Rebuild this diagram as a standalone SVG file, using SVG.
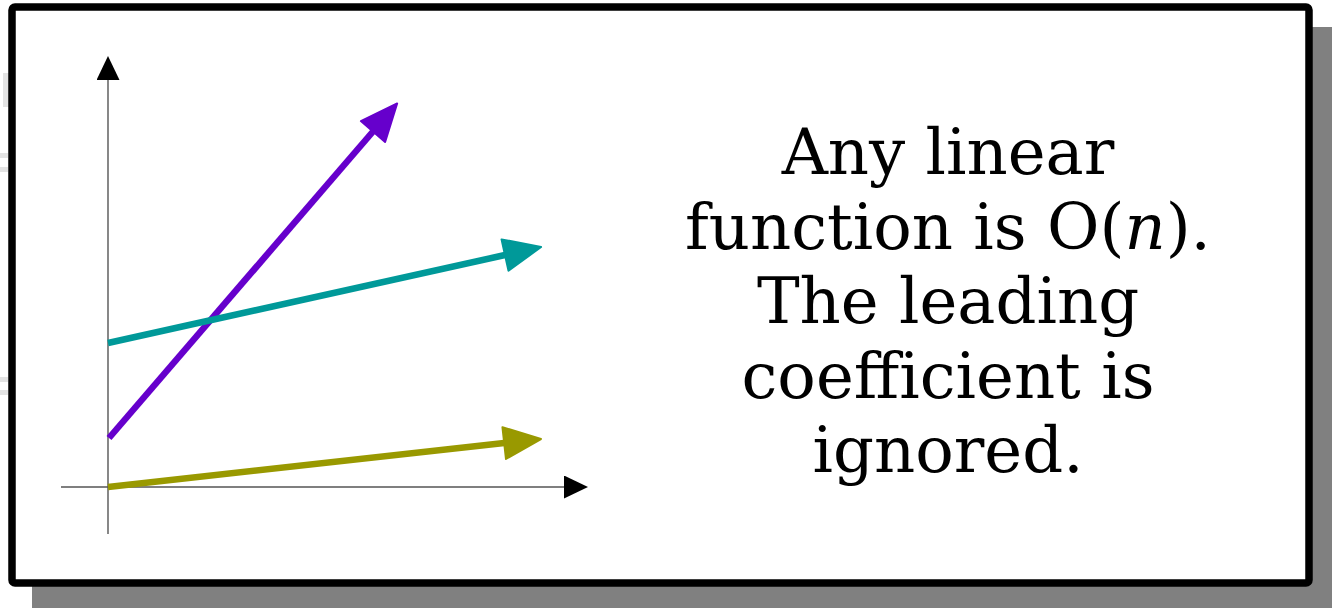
<svg xmlns="http://www.w3.org/2000/svg" width="1332" height="608" viewBox="0 0 1332 608">
<style>
.lbl{font-family:"DejaVu Serif",serif;font-size:64px;fill:#000;text-anchor:middle}
.axis{stroke:#555;stroke-width:1.4;fill:none}
.fn{stroke-width:6.5;fill:none;stroke-linecap:butt}
.ghost{fill:#e3e3e3}
</style>
<defs>
<marker id="axhead" markerUnits="userSpaceOnUse" markerWidth="24" markerHeight="23" viewBox="0 0 24 23" refX="0" refY="11.5" orient="auto">
<path d="M0,0 L24,11.5 L0,23 z" fill="#000"/>
</marker>
<marker id="hp" markerUnits="userSpaceOnUse" markerWidth="40" markerHeight="35" viewBox="-1.5 -1.5 40 35" refX="0" refY="16" orient="auto">
<path d="M0,0 L37,16 L0,32 z" fill="#6600cc" stroke="#6600cc" stroke-width="2" stroke-linejoin="round"/>
</marker>
<marker id="ht" markerUnits="userSpaceOnUse" markerWidth="40" markerHeight="35" viewBox="-1.5 -1.5 40 35" refX="0" refY="16" orient="auto">
<path d="M0,0 L37,16 L0,32 z" fill="#009999" stroke="#009999" stroke-width="2" stroke-linejoin="round"/>
</marker>
<marker id="ho" markerUnits="userSpaceOnUse" markerWidth="40" markerHeight="35" viewBox="-1.5 -1.5 40 35" refX="0" refY="16" orient="auto">
<path d="M0,0 L37,16 L0,32 z" fill="#999900" stroke="#999900" stroke-width="2" stroke-linejoin="round"/>
</marker>
</defs>
<g id="background">
<rect x="3" y="73" width="6" height="34" class="ghost"/>
<rect x="0" y="153" width="8" height="5" class="ghost"/>
<rect x="0" y="167" width="8" height="5" class="ghost"/>
<rect x="0" y="377" width="8" height="5" class="ghost"/>
<rect x="0" y="390" width="8" height="5" class="ghost"/>
</g>
<g id="frame">
<rect x="32" y="27" width="1310" height="590" fill="#808080"/>
<rect x="12" y="7" width="1297" height="576" rx="3" fill="#fff" stroke="#000" stroke-width="7.5"/>
</g>
<g id="connectors">
<line id="y-axis" x1="108" y1="534" x2="108" y2="80" class="axis" marker-end="url(#axhead)"/>
<line id="x-axis" x1="61" y1="487" x2="564" y2="487" class="axis" marker-end="url(#axhead)"/>
<line id="purple-line" x1="109" y1="438" x2="373" y2="131.5" class="fn" stroke="#6600cc" marker-end="url(#hp)"/>
<line id="teal-line" x1="108" y1="343" x2="505" y2="255" class="fn" stroke="#009999" marker-end="url(#ht)"/>
<line id="olive-line" x1="108" y1="487" x2="504.2" y2="443.1" class="fn" stroke="#999900" marker-end="url(#ho)"/>
</g>
<g id="caption">
<text class="lbl" x="948" y="174">Any linear</text>
<text class="lbl" x="948" y="248.5">function is O(<tspan font-style="italic">n</tspan>).</text>
<text class="lbl" x="948" y="323">The leading</text>
<text class="lbl" x="948" y="397.5">coefficient is</text>
<text class="lbl" x="948" y="472">ignored.</text>
</g>
</svg>
